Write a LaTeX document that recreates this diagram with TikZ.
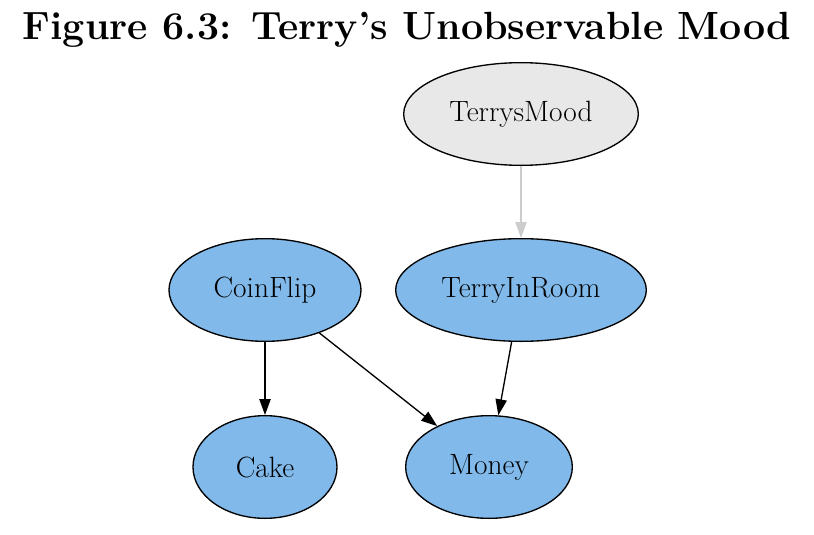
\documentclass[tikz,border=0pt]{standalone}
\usetikzlibrary{shapes.geometric,arrows.meta}
\definecolor{nodeblue}{HTML}{80B9EA}
\definecolor{nodegray}{HTML}{E8E8E8}
\begin{document}
\begin{tikzpicture}[x=0.75pt,y=-0.75pt,
  nd/.style={ellipse,draw,line width=1pt,fill=nodeblue,inner sep=0pt,font=\fontsize{22}{26}\selectfont},
  ar/.style={-{Triangle[length=12pt,width=8.5pt]},line width=1pt}]
\useasboundingbox (0,0) rectangle (814,535);
\node[font=\fontsize{29.5}{34}\selectfont\bfseries] (title) at (407,30) {Figure 6.3: Terry's Unobservable Mood};
\node[nd,fill=nodegray,minimum width=176pt,minimum height=77pt] (m) at (521,114) {TerrysMood};
\node[nd,minimum width=144pt,minimum height=77pt] (c) at (265,290) {CoinFlip};
\node[nd,minimum width=188pt,minimum height=77pt] (t) at (521,290) {TerryInRoom};
\node[nd,minimum width=108pt,minimum height=77pt] (k) at (265,467) {Cake};
\node[nd,minimum width=125pt,minimum height=77pt] (y) at (489,467) {Money};
\draw[ar,draw=black!20,fill=black!60] (m) -- (t);
\draw[ar] (c) -- (k);
\draw[ar] (c) -- (y);
\draw[ar] (t) -- (y);
\end{tikzpicture}
\end{document}
